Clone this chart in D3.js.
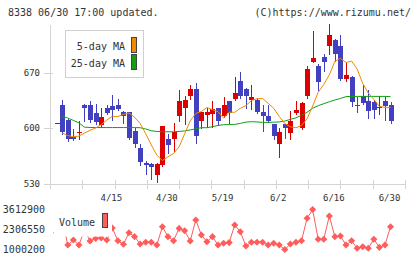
<!DOCTYPE html>
<html><head><meta charset="utf-8">
<script src="https://cdn.jsdelivr.net/npm/d3@7"></script>
<style>html,body{margin:0;padding:0;background:#fff;overflow:hidden}</style>
</head><body><svg id="c" width="420" height="259"></svg>
<script>
const dates = ["4/1","4/2","4/3","4/4","4/7","4/8","4/9","4/10","4/11","4/14",
 "4/15","4/16","4/17","4/18","4/21","4/22","4/23","4/24","4/25","4/28",
 "4/30","5/1","5/2","5/7","5/8","5/9","5/12","5/13","5/14","5/15",
 "5/19","5/20","5/21","5/22","5/23","5/26","5/27","5/28","5/29","5/30",
 "6/2","6/3","6/4","6/5","6/6","6/9","6/10","6/11","6/12","6/13",
 "6/16","6/17","6/18","6/19","6/20","6/23","6/24","6/25","6/26","6/27","6/30"];
const open  = [607,630,611,589,594,630,630,619,604,625,628,630,620,620,597,575,556,555,541,554,586,586,615,626,641,650,609,617,618,625,616,634,637,660,650,636,636,620,616,605,580,605,594,619,601,641,684,678,690,704,711,704,662,665,630,641,634,633,626,634,629];
const high  = [607,636,612,599,609,631,634,631,626,630,642,637,622,621,600,580,559,557,556,603,593,607,648,641,655,657,621,625,634,626,640,635,664,671,651,655,638,630,630,606,600,606,622,634,633,679,723,681,694,731,712,718,684,666,640,655,648,636,641,640,633];
const low   = [607,593,584,585,587,609,608,606,602,618,611,623,607,587,577,554,543,536,533,553,569,572,609,606,637,582,600,602,602,604,614,607,636,638,626,624,619,597,608,586,564,588,587,618,599,638,683,648,672,693,685,661,660,628,620,631,613,613,618,610,607];
const close = [607,596,586,586,595,625,610,608,614,619,623,624,616,588,580,558,554,551,555,603,579,595,634,636,650,591,620,620,624,609,629,619,645,641,641,640,621,615,609,590,595,601,609,623,632,675,688,658,683,718,693,662,667,633,628,632,622,623,627,628,609];
const volume = [2100000,2990000,1290000,1620000,1290000,2270000,1560000,1720000,1750000,1620000,
 2400000,1570000,1340000,2100000,1840000,1360000,1470000,1470000,1290000,2490000,
 1840000,1570000,2380000,2230000,1560000,2930000,1950000,1510000,1840000,1290000,
 1410000,1450000,2600000,2160000,1230000,1470000,1470000,1470000,1290000,1410000,
 1290000,1000200,1360000,1470000,1570000,3040000,3612900,1670000,1670000,3190000,
 1840000,1880000,1290000,1570000,1080000,1180000,1080000,1670000,1140000,1290000,2490000];
const ma5 = [null,594.2,591,589.3,590.3,594,597.6,600.4,604.8,610.4,615.2,614.8,617.6,619.2,614,606.2,593.2,579.2,566.2,559.6,
 564.2,568.4,576.6,593.2,609.4,618.8,621.2,626.2,623.4,621,612.8,620.4,620.2,625.2,628.6,635,637.2,637.6,631.6,625.2,
 615,606,602,600.8,603.6,612,628,645.4,655.2,667.2,684.4,688,682.8,684.6,674.6,656.6,644.4,636.4,627.6,626.4,626.4];
const ma25 = [null,615.1,613,610,606.9,601.5,601.1,601,601,601,601,601,601,601,601,600.8,599.2,597,596.1,595.7,
 595.7,595.7,596.1,596.7,598,599.5,600.8,600.8,602,603.7,604.6,604.7,605,606.2,607.8,608.4,608.1,607.5,607.5,607.8,
 608.1,609.2,611.3,613.2,616.4,620.2,625.3,628.5,631,633.5,635.7,637.6,639.9,640.2,640.2,640.2,640.2,640.2,640.2,640.2,639.9];
const dateTickLabels = ["4/15","4/30","5/19","6/2","6/16","6/30"];
const priceTicks = [530,600,670];

const UP = "#dd0000", DOWN = "#4040c0", GRID = "#d4d4d4", TXT = "#333",
      ORANGE = "#f08a00", GREEN = "#10a010", VOL = "#ff5c5c";
const FONT = "'DejaVu Sans Mono', monospace";

const svg = d3.select("#c");
const x = d3.scaleLinear().domain([-1.2, 62.6]).range([50, 405]);
const y = d3.scaleLinear().domain([530, 730]).range([184, 25]);
const vMin = d3.min(volume), vMax = d3.max(volume);
const yv = d3.scaleLinear().domain([vMin, vMax]).range([249.5, 209.5]);
const idx = d3.range(dates.length);
const px = v => Math.round(v) + 0.5;

// header
svg.append("text").attr("x", 8).attr("y", 16).attr("font-family", FONT).attr("font-size", 10)
  .attr("fill", TXT).text("8338 06/30 17:00 updated.");
svg.append("text").attr("x", 411).attr("y", 16).attr("text-anchor", "end").attr("font-family", FONT)
  .attr("font-size", 10).attr("fill", TXT).text("(C)https://www.rizumu.net/");

// axes and grid
const ga = svg.append("g").attr("shape-rendering", "crispEdges").attr("stroke", GRID).attr("stroke-width", 1);
const [xr0, xr1] = x.range();
ga.append("line").attr("x1", px(xr0)).attr("x2", px(xr0)).attr("y1", 25).attr("y2", 189);
ga.append("line").attr("x1", 44).attr("x2", xr1 + 1).attr("y1", px(y(530))).attr("y2", px(y(530)));
priceTicks.filter(p => p > 530).forEach(p => {
  ga.append("line").attr("x1", 44).attr("x2", 53).attr("y1", px(y(p))).attr("y2", px(y(p)));
});
d3.range(12).map(k => xr0 + k * (xr1 - xr0) / 11).forEach(t => {
  ga.append("line").attr("x1", px(t)).attr("x2", px(t)).attr("y1", 180).attr("y2", 189);
});

// price labels
priceTicks.forEach(p => {
  svg.append("text").attr("x", 40).attr("y", y(p) + 3).attr("text-anchor", "end")
    .attr("font-family", FONT).attr("font-size", 9).attr("fill", TXT).text(p);
});
// date labels
dateTickLabels.forEach(l => {
  const i = dates.indexOf(l);
  svg.append("text").attr("x", x(i) - 1).attr("y", 201).attr("text-anchor", "middle")
    .attr("font-family", FONT).attr("font-size", 9).attr("fill", TXT).text(l);
});

// candles
const gc = svg.append("g").attr("shape-rendering", "crispEdges");
idx.forEach(i => {
  const col = close[i] >= open[i] ? UP : DOWN;
  const cx = Math.round(x(i));
  gc.append("line").attr("x1", cx + 0.5).attr("x2", cx + 0.5)
    .attr("y1", Math.round(y(high[i]))).attr("y2", Math.round(y(low[i])) + 1).attr("stroke", col);
  const top = Math.round(y(Math.max(open[i], close[i])));
  const bot = Math.round(y(Math.min(open[i], close[i])));
  gc.append("rect").attr("x", cx - 2).attr("width", 5).attr("y", top)
    .attr("height", Math.max(1, bot - top)).attr("fill", col);
});

// moving averages
const maLine = d3.line().defined(d => d != null).x((d, i) => x(i)).y(d => y(d));
svg.append("path").datum(ma25).attr("d", maLine).attr("fill", "none").attr("stroke", GREEN).attr("stroke-width", 1);
svg.append("path").datum(ma5).attr("d", maLine).attr("fill", "none").attr("stroke", ORANGE).attr("stroke-width", 1);

// price legend
svg.append("rect").attr("x", 65.5).attr("y", 30.5).attr("width", 78).attr("height", 47)
  .attr("fill", "#fff").attr("stroke", "#d0d0d0");
[["5-day MA", ORANGE, 50, 37.5], ["25-day MA", GREEN, 67, 54.5]].forEach(([t, c, ty, ry]) => {
  svg.append("text").attr("x", 125).attr("y", ty).attr("text-anchor", "end")
    .attr("font-family", FONT).attr("font-size", 10).attr("fill", TXT).text(t);
  svg.append("rect").attr("x", 131.5).attr("y", ry).attr("width", 5).attr("height", 15)
    .attr("fill", c).attr("stroke", "#444");
});

// volume
const vLine = d3.line().x((d, i) => x(i)).y(d => yv(d));
svg.append("path").datum(volume).attr("d", vLine).attr("fill", "none").attr("stroke", VOL).attr("stroke-width", 1);
const diamond = d3.symbol().type(d3.symbolSquare).size(25);
svg.append("g").selectAll("path").data(volume).join("path")
  .attr("d", diamond).attr("fill", VOL)
  .attr("transform", (d, i) => `translate(${x(i)},${yv(d)}) rotate(45)`);

// volume legend (covers the line behind it)
svg.append("rect").attr("x", 54).attr("y", 204).attr("width", 58).attr("height", 32.5).attr("fill", "#fff");
svg.append("text").attr("x", 59).attr("y", 226).attr("font-family", FONT).attr("font-size", 10)
  .attr("fill", TXT).text("Volume");
svg.append("rect").attr("x", 102.5).attr("y", 213.5).attr("width", 5).attr("height", 14)
  .attr("fill", VOL).attr("stroke", "#444");

// volume labels
[vMax, (vMax + vMin) / 2, vMin].forEach(v => {
  svg.append("text").attr("x", 45).attr("y", yv(v) + 3.5).attr("text-anchor", "end")
    .attr("font-family", FONT).attr("font-size", 10).attr("fill", TXT).text(Math.round(v));
});
</script>
</body></html>
